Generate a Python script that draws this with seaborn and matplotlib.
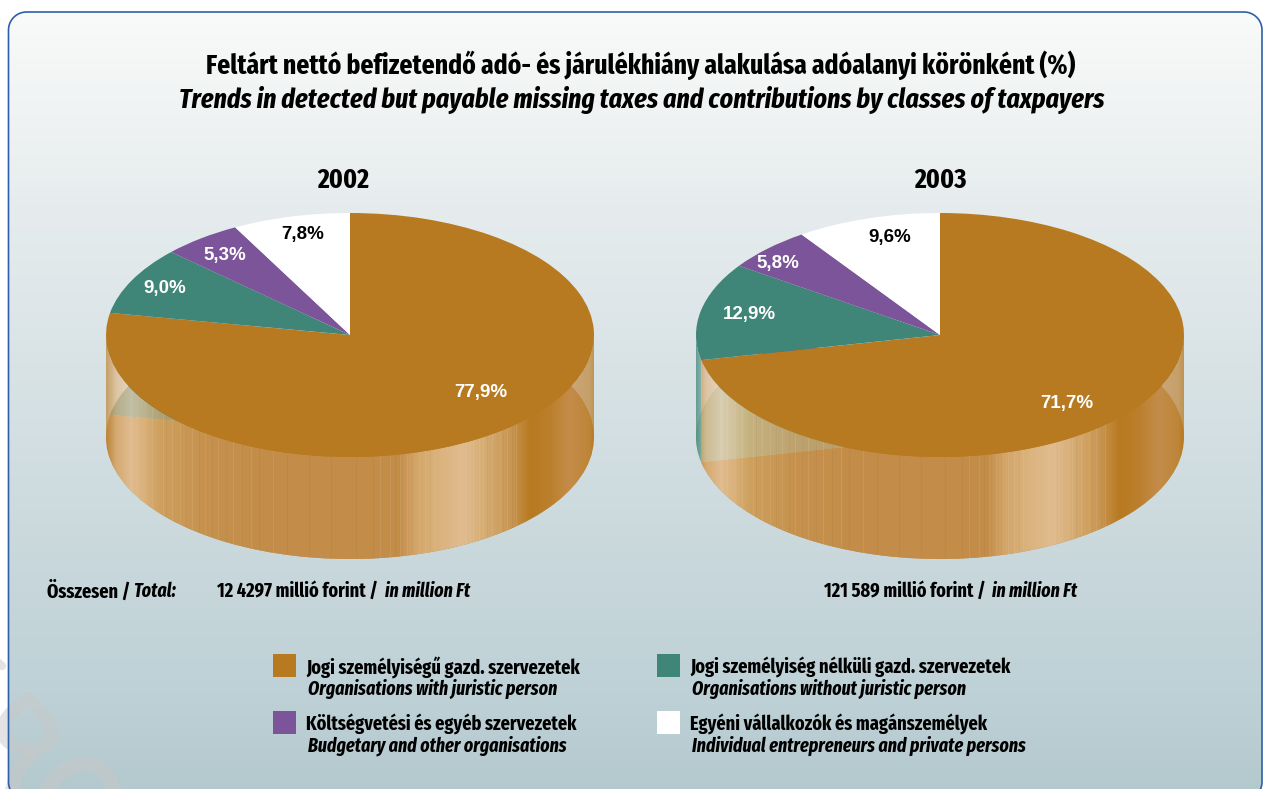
import numpy as np
import matplotlib
matplotlib.use('Agg')
import matplotlib.pyplot as plt
import seaborn as sns
from matplotlib.colors import LinearSegmentedColormap
from matplotlib.patches import PathPatch, Rectangle
from matplotlib.path import Path

W, H = 1263, 789

YEARS = ['2002', '2003']
SHARES_2002 = [77.9, 9.0, 5.3, 7.8]
SHARES_2003 = [71.7, 12.9, 5.8, 9.6]
LABELS_2002 = ['77,9%', '9,0%', '5,3%', '7,8%']
LABELS_2003 = ['71,7%', '12,9%', '5,8%', '9,6%']
TOTALS = ['12 4297 millió forint /', '121 589 millió forint /']
CATEGORIES_HU = [
    'Jogi személyiségű gazd. szervezetek',
    'Jogi személyiség nélküli gazd. szervezetek',
    'Költségvetési és egyéb szervezetek',
    'Egyéni vállalkozók és magánszemélyek',
]
CATEGORIES_EN = [
    'Organisations with juristic person',
    'Organisations without juristic person',
    'Budgetary and other organisations',
    'Individual entrepreneurs and private persons',
]
COLORS = ['#b87a20', '#3f8578', '#7b5499', '#ffffff']
PALE_TEAL = '#96bea2'

# wall shading, position across the pie width -> colour
WALL_STOPS = [
    (0.00, '#c08a40'), (0.02, '#e0bc90'), (0.05, '#edd2b5'), (0.07, '#e8c8a0'),
    (0.11, '#d6ad72'), (0.20, '#cb9a5e'), (0.32, '#c89358'), (0.60, '#c89358'),
    (0.63, '#dcb380'), (0.68, '#e6c69c'), (0.73, '#edd2b5'), (0.77, '#e2c094'),
    (0.83, '#cf9f62'), (0.87, '#b87a20'), (0.91, '#bd8232'), (0.95, '#c89358'),
    (0.99, '#c08a40'), (1.00, '#b87a20'),
]
# hairlines on the wall
STRIPES_LIGHT = [0.052, 0.064, 0.081, 0.096, 0.118, 0.137, 0.152, 0.178, 0.205, 0.231,
                 0.262, 0.298, 0.344, 0.561, 0.583, 0.602, 0.618, 0.641, 0.655, 0.672,
                 0.738, 0.746, 0.752, 0.764, 0.773, 0.792, 0.808, 0.823, 0.84]
STRIPES_DARK = [0.125, 0.165, 0.191, 0.218, 0.247, 0.281, 0.315, 0.372, 0.418, 0.463,
                0.512, 0.548, 0.592, 0.628, 0.664, 0.782, 0.815, 0.832]
BG_STOPS = [
    (0.00, '#f9fafa'), (0.13, '#f0f3f3'), (0.25, '#e6ecee'), (0.50, '#d6e1e4'),
    (0.72, '#c8d7db'), (0.86, '#bfd2d7'), (1.00, '#b4c9ce'),
]
FONT = ['Fira Sans Extra Condensed', 'Barlow Condensed', 'DejaVu Sans']
FONT_LABEL = ['Liberation Sans', 'DejaVu Sans']

sns.set_theme(style='white')
plt.rcParams['font.family'] = FONT
plt.rcParams['text.color'] = 'black'

DEPTH = 102 / 122
PX_X = 244
PX_Y = 122


def rounded_box(x0, y0, x1, y1, r):
    pts = []
    corners = [(x0 + r, y0 + r, 180), (x1 - r, y0 + r, 270), (x1 - r, y1 - r, 0), (x0 + r, y1 - r, 90)]
    for cx, cy, start in corners:
        a = np.radians(np.linspace(start, start + 90, 16))
        pts.append(np.column_stack([cx + r * np.cos(a), cy + r * np.sin(a)]))
    pts = np.vstack(pts + [pts[0][:1]])
    return Path(pts)


def add_watermark(ax):
    # faint grey swirl in the lower left corner
    style = dict(facecolor='none', edgecolor='#c8c8c8', alpha=0.5, capstyle='round', zorder=2)
    drop = Path([(28, 699), (42, 712), (53, 722), (51, 736), (48, 756), (14, 752), (5, 738), (-4, 722), (16, 708), (28, 699)],
                [Path.MOVETO] + [Path.CURVE4] * 9)
    ax.add_patch(PathPatch(drop, linewidth=9.5, **style))
    arc = Path([(44, 795), (62, 756), (105, 752), (116, 795)], [Path.MOVETO] + [Path.CURVE4] * 3)
    ax.add_patch(PathPatch(arc, linewidth=10.5, **style))
    ax.add_patch(PathPatch(Path([(30, 757), (12, 770), (16, 785), (10, 795)], [Path.MOVETO] + [Path.CURVE4] * 3),
                           linewidth=10, **style))
    ax.add_patch(PathPatch(Path([(-3, 661), (2, 666)]), linewidth=6, **style))


def add_background(fig):
    ax = fig.add_axes([0, 0, 1, 1])
    ax.set_xlim(0, W)
    ax.set_ylim(H, 0)
    ax.axis('off')
    cmap = LinearSegmentedColormap.from_list('bg', BG_STOPS)
    grad = np.linspace(0, 1, 256).reshape(-1, 1)
    outline = rounded_box(8.5, 12, 1262, 800, 18)
    box = PathPatch(outline, facecolor='none', edgecolor='#2f5fa8', linewidth=1.2, zorder=3)
    ax.add_patch(box)
    im = ax.imshow(grad, cmap=cmap, extent=(8.5, 1262, H, 12), aspect='auto', zorder=1)
    im.set_clip_path(box)
    add_watermark(ax)
    ax.set_xlim(0, W)
    ax.set_ylim(H, 0)
    return ax


def wall_image():
    cmap = LinearSegmentedColormap.from_list('wall', WALL_STOPS, N=512)
    rgba = cmap(np.linspace(0, 1, 2 * PX_X))
    for pos in STRIPES_LIGHT:
        i = int(pos * (2 * PX_X - 1))
        rgba[i, :3] = rgba[i, :3] * 0.88 + 0.12
    for pos in STRIPES_DARK:
        i = int(pos * (2 * PX_X - 1))
        rgba[i, :3] = rgba[i, :3] * 0.96
    return rgba[np.newaxis, :, :]


def wall_path(x0, x1):
    xs = np.linspace(x0, x1, 200)
    rim = -np.sqrt(np.clip(1 - xs ** 2, 0, 1))
    verts = np.vstack([np.column_stack([xs, rim]),
                       np.column_stack([xs[::-1], rim[::-1] - DEPTH])])
    return Path(verts)


def draw_pie(fig, cx, shares, labels, label_pos):
    left = (cx - 1.1 * PX_X) / W
    width = 2.2 * PX_X / W
    top_px = 335 - 1.1 * PX_Y
    bottom_px = 335 + 2.0 * PX_Y
    ax = fig.add_axes([left, 1 - bottom_px / H, width, (bottom_px - top_px) / H])
    ax.patch.set_alpha(0)
    palette = sns.color_palette(COLORS)
    wedge_kw = {'linewidth': 0}

    brown_angle = np.radians(shares[0] * 3.6)
    split = np.sin(brown_angle) if np.pi < brown_angle < 1.5 * np.pi else -1.0

    # bottom disc, its teal shows paler through the wall when the wall starts inside it
    under = list(palette)
    if split > -1:
        under[1] = sns.color_palette([PALE_TEAL])[0]
    ax.pie(shares, colors=under, startangle=90, counterclock=False,
           center=(0, -DEPTH), radius=1, wedgeprops=wedge_kw)
    for w in ax.patches:
        w.set_zorder(1)

    # translucent wall on top of it
    im = ax.imshow(wall_image(), extent=(-1, 1, -1 - DEPTH, 0), aspect='auto',
                   alpha=0.75, zorder=2, interpolation='nearest')
    patch = PathPatch(wall_path(split, 1), facecolor='none', edgecolor='none', transform=ax.transData)
    ax.add_patch(patch)
    im.set_clip_path(patch)
    if split > -1:
        teal_cmap = LinearSegmentedColormap.from_list('tealwall', [COLORS[1], '#73a89c'])
        im2 = ax.imshow(np.linspace(0, 1, 64).reshape(1, -1), cmap=teal_cmap,
                        extent=(-1, split, -1 - DEPTH, 0), aspect='auto', alpha=0.75, zorder=2)
        patch2 = PathPatch(wall_path(-1, split), facecolor='none', edgecolor='none', transform=ax.transData)
        ax.add_patch(patch2)
        im2.set_clip_path(patch2)

    # top disc
    before = len(ax.patches)
    ax.pie(shares, colors=palette, startangle=90, counterclock=False,
           center=(0, 0), radius=1, wedgeprops=wedge_kw)
    for w in ax.patches[before:]:
        w.set_zorder(3)

    for lab, (lx, ly), col in zip(labels, label_pos, ['white', 'white', 'white', 'black']):
        ax.text(lx, ly, lab, color=col, ha='center', va='center', fontsize=13.5,
                fontweight='bold', family=FONT_LABEL, zorder=4)

    ax.set_aspect('auto')
    ax.set_xlim(-1.1, 1.1)
    ax.set_ylim(-2.0, 1.1)
    ax.axis('off')


def main():
    fig = plt.figure(figsize=(W / 100, H / 100), dpi=100, facecolor='white')
    bg = add_background(fig)

    bg.text(641, 65, 'Feltárt nettó befizetendő adó- és járulékhiány alakulása adóalanyi körönként (%)',
            ha='center', va='center', fontsize=20, fontweight='bold', zorder=5)
    bg.text(642, 100, 'Trends in detected but payable missing taxes and contributions by classes of taxpayers',
            ha='center', va='center', fontsize=20.2, fontweight='bold', style='italic', zorder=5)
    bg.text(343, 180, YEARS[0], ha='center', va='center', fontsize=20, fontweight='bold', zorder=5)
    bg.text(940, 180, YEARS[1], ha='center', va='center', fontsize=20, fontweight='bold', zorder=5)

    draw_pie(fig, 350, SHARES_2002, LABELS_2002,
             [(0.537, -0.47), (-0.758, 0.383), (-0.512, 0.654), (-0.193, 0.826)])
    draw_pie(fig, 940, SHARES_2003, LABELS_2003,
             [(0.52, -0.56), (-0.783, 0.17), (-0.664, 0.588), (-0.205, 0.80)])

    # second layer for text so it stays above the pie axes
    over = fig.add_axes([0, 0, 1, 1])
    over.set_xlim(0, W)
    over.set_ylim(H, 0)
    over.axis('off')
    over.patch.set_alpha(0)

    small = dict(fontsize=14.3, fontweight='bold', va='center')
    small_it = dict(fontsize=14, fontweight='bold', style='italic', va='center')
    over.text(47, 591, 'Összesen /', **small)
    over.text(133, 591, 'Total:', **small_it)
    over.text(217, 591, TOTALS[0], **small)
    over.text(385, 591, 'in million Ft', **small_it)
    over.text(824, 591, TOTALS[1], **small)
    over.text(992, 591, 'in million Ft', **small_it)

    swatch_xy = [(273, 654), (657, 654), (273, 711), (657, 711)]
    for (sx, sy), color, hu, en in zip(swatch_xy, COLORS, CATEGORIES_HU, CATEGORIES_EN):
        over.add_patch(Rectangle((sx, sy), 23, 23, facecolor=color, edgecolor='none'))
        over.text(sx + 33, sy + 13, hu, **small)
        over.text(sx + 35, sy + 35, en, **small_it)

    fig.savefig('out.png', dpi=100, facecolor='white')
    plt.close(fig)


if __name__ == '__main__':
    main()
